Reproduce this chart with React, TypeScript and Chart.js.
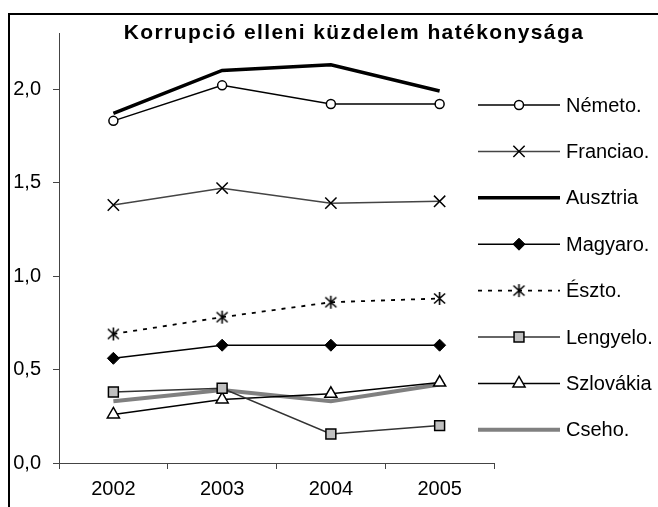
import React, { useEffect, useRef } from "react";
import { Chart, registerables } from "chart.js";
import { drawPoint } from "chart.js/helpers";

Chart.register(...registerables);

const title = "Korrupció elleni küzdelem hatékonysága";
const years = ["2002", "2003", "2004", "2005"];
const nemeto = [1.83, 2.02, 1.92, 1.92];
const franciao = [1.38, 1.47, 1.39, 1.4];
const ausztria = [1.87, 2.1, 2.13, 1.99];
const magyaro = [0.56, 0.63, 0.63, 0.63];
const eszto = [0.69, 0.78, 0.86, 0.88];
const lengyelo = [0.38, 0.4, 0.155, 0.2];
const szlovakia = [0.26, 0.34, 0.37, 0.43];
const cseho = [0.33, 0.39, 0.33, 0.42];
const yTicks = [0, 0.5, 1, 1.5, 2];

const FONT = "'Liberation Sans', Arial, sans-serif";

function makeStar(): HTMLCanvasElement {
  const c = document.createElement("canvas");
  c.width = 15;
  c.height = 15;
  const g = c.getContext("2d")!;
  g.strokeStyle = "#000";
  g.lineWidth = 1.6;
  g.beginPath();
  g.moveTo(7.5, 1);
  g.lineTo(7.5, 14);
  g.moveTo(2, 2.5);
  g.lineTo(13, 12.5);
  g.moveTo(13, 2.5);
  g.lineTo(2, 12.5);
  g.stroke();
  return c;
}

export default function App() {
  const ref = useRef<HTMLCanvasElement | null>(null);

  useEffect(() => {
    document.body.style.margin = "0";
    const star = makeStar();
    const base = { fill: false, tension: 0 };
    const datasets: any[] = [
      { label: "Németo.", data: nemeto, borderColor: "#000", borderWidth: 1.5, pointStyle: "circle", pointRadius: 4.5, pointBackgroundColor: "#fff", pointBorderColor: "#000", pointBorderWidth: 1.5 },
      { label: "Franciao.", data: franciao, borderColor: "#444", borderWidth: 1.5, pointStyle: "crossRot", pointRadius: 8, pointBackgroundColor: "#000", pointBorderColor: "#000", pointBorderWidth: 1.5 },
      { label: "Ausztria", data: ausztria, borderColor: "#000", borderWidth: 3.5, pointRadius: 0, pointStyle: false },
      { label: "Magyaro.", data: magyaro, borderColor: "#000", borderWidth: 1.5, pointStyle: "rectRot", pointRadius: 6, pointBackgroundColor: "#000", pointBorderColor: "#000", pointBorderWidth: 1 },
      { label: "Észto.", data: eszto, borderColor: "#000", borderWidth: 1.8, borderDash: [4, 6], pointStyle: star, pointRadius: 7, pointBackgroundColor: "#000", pointBorderColor: "#000" },
      { label: "Lengyelo.", data: lengyelo, borderColor: "#333", borderWidth: 1.5, pointStyle: "rect", pointRadius: 7, pointBackgroundColor: "#c0c0c0", pointBorderColor: "#000", pointBorderWidth: 1.5 },
      { label: "Szlovákia", data: szlovakia, borderColor: "#000", borderWidth: 1.5, pointStyle: "triangle", pointRadius: 7, pointBackgroundColor: "#fff", pointBorderColor: "#000", pointBorderWidth: 1.5 },
      { label: "Cseho.", data: cseho, borderColor: "#808080", borderWidth: 4, pointRadius: 0, pointStyle: false },
    ].map((d) => ({ ...base, ...d }));

    const decor = {
      id: "decor",
      afterDraw(chart: any) {
        const ctx = chart.ctx as CanvasRenderingContext2D;
        ctx.save();
        // frame
        ctx.strokeStyle = "#000";
        ctx.lineWidth = 2;
        ctx.beginPath();
        ctx.moveTo(9, 507);
        ctx.lineTo(9, 14);
        ctx.lineTo(658, 14);
        ctx.stroke();
        // title
        ctx.fillStyle = "#000";
        ctx.font = `bold 21px ${FONT}`;
        (ctx as any).letterSpacing = "1.4px";
        ctx.textAlign = "center";
        ctx.textBaseline = "alphabetic";
        ctx.fillText(title, 354, 39);
        (ctx as any).letterSpacing = "0px";
        // legend
        chart.data.datasets.forEach((ds: any, i: number) => {
          const y = 105 + i * 46.4;
          ctx.save();
          ctx.strokeStyle = ds.borderColor;
          ctx.lineWidth = ds.borderWidth;
          ctx.setLineDash(ds.borderDash || []);
          ctx.beginPath();
          ctx.moveTo(478, y);
          ctx.lineTo(560, y);
          ctx.stroke();
          ctx.restore();
          if (ds.pointStyle && ds.pointRadius > 0) {
            ctx.save();
            ctx.fillStyle = ds.pointBackgroundColor;
            ctx.strokeStyle = ds.pointBorderColor;
            ctx.lineWidth = ds.pointBorderWidth || 1;
            ctx.setLineDash([]);
            drawPoint(ctx, { pointStyle: ds.pointStyle, rotation: 0, radius: ds.pointRadius, borderWidth: ds.pointBorderWidth || 1 } as any, 519, y);
            ctx.restore();
          }
          ctx.fillStyle = "#000";
          ctx.font = `20px ${FONT}`;
          ctx.textAlign = "left";
          ctx.textBaseline = "middle";
          ctx.fillText(ds.label, 566, y + 1);
        });
        ctx.restore();
      },
    };

    const chart = new Chart(ref.current!, {
      type: "line",
      data: { labels: years, datasets },
      options: {
        animation: false,
        responsive: false,
        events: [],
        layout: { padding: { left: 0, top: 33, right: 164, bottom: 0 } },
        plugins: { legend: { display: false }, tooltip: { enabled: false }, title: { display: false } },
        scales: {
          x: {
            type: "category",
            offset: true,
            grid: { display: true, drawOnChartArea: false, drawTicks: true, tickLength: 6, offset: true, color: "#444" },
            border: { display: true, color: "#444", width: 1 },
            ticks: { color: "#000", font: { family: FONT, size: 20 }, padding: 8, maxRotation: 0 },
            afterFit: (s: any) => { s.height = 44; },
          },
          y: {
            type: "linear",
            min: 0,
            max: 2.3,
            grid: { display: true, drawOnChartArea: false, drawTicks: true, tickLength: 6, color: "#444" },
            border: { display: true, color: "#444", width: 1 },
            afterBuildTicks: (s: any) => { s.ticks = yTicks.map((v) => ({ value: v })); },
            ticks: {
              color: "#000",
              font: { family: FONT, size: 20 },
              padding: 12,
              callback: (v: any) => Number(v).toFixed(1).replace(".", ","),
            },
            afterFit: (s: any) => { s.width = 59; },
          },
        },
      },
      plugins: [decor],
    });
    return () => chart.destroy();
  }, []);

  return (
    <div style={{ width: 658, height: 507, background: "#fff" }}>
      <canvas ref={ref} width={658} height={507} style={{ display: "block", width: 658, height: 507 }} />
    </div>
  );
}
